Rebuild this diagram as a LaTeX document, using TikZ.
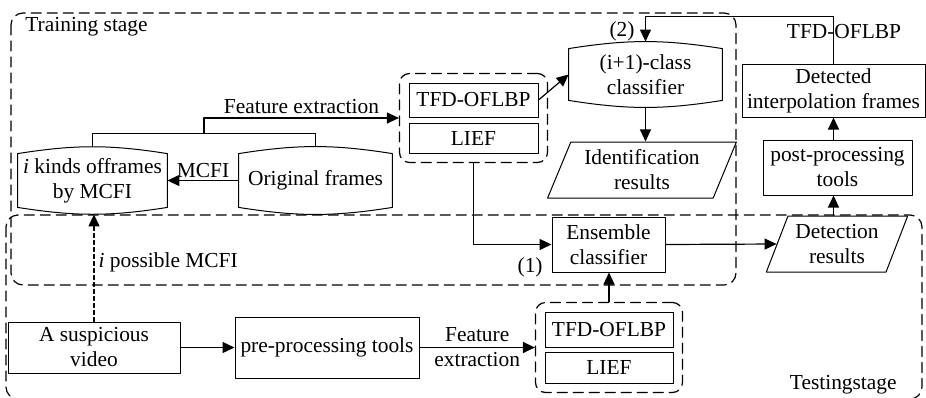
\documentclass[tikz,border=0pt]{standalone}
\usepackage{fontspec}
\IfFontExistsTF{LiberationSerif-Regular.ttf}
	{\setmainfont{LiberationSerif}[Extension=.ttf, UprightFont=*-Regular, ItalicFont=*-Italic, BoldFont=*-Bold, BoldItalicFont=*-BoldItalic]}
	{\setmainfont{Liberation Serif}}
\usetikzlibrary{arrows.meta,calc,fit,shapes.geometric}
\begin{document}
\begin{tikzpicture}[x=0.5pt, y=-0.5pt, line cap=round, line join=round, >={Triangle[length=6pt,width=5.5pt]},
	font=\rmfamily\fontsize{10.7}{12.5}\selectfont,
	box/.style={draw, line width=0.5pt, inner sep=0pt, align=center},
	barrel/.style={inner sep=0pt, align=center},
	slanted/.style={draw, line width=0.5pt, trapezium, trapezium left angle=65, trapezium right angle=115, trapezium stretches=true, inner sep=0pt, align=center},
	featgroup/.style={draw, dash pattern=on 5pt off 3pt, rounded corners=5pt, inner sep=4.5pt, line width=0.6pt},
	stage/.style={draw, dash pattern=on 5pt off 3pt, rounded corners=6pt, line width=0.6pt},
	link/.style={line width=0.6pt, ->}]
	\useasboundingbox (0,0) rectangle (926,397);
	% stages
	\draw[stage] (11,13) rectangle (736,285);
	\draw[stage] (6,215) rectangle (922,399);
	\node[anchor=west, inner sep=0pt] (trainlbl) at (25,27) {Training stage};
	\node[anchor=east, inner sep=0pt] (testlbl) at (897,385) {Testingstage};
	% databases
	\node[barrel, minimum width=74.5pt, minimum height=33.5pt] (kinds) at (92.5,180.5) {\textit{i} kinds offrames\\by MCFI};
	\node[barrel, minimum width=76.5pt, minimum height=33.5pt] (orig) at (315.5,180.5) {Original frames};
	\node[barrel, minimum width=76.5pt, minimum height=32.5pt] (cls) at (645.5,74.5) {(i+1)-class\\classifier};
	\foreach \n in {kinds,orig,cls} {
		\draw[line width=0.5pt] ($(\n.north west)+(0,7)$) to[bend left=9] ($(\n.north east)+(0,7)$) -- ($(\n.south east)+(0,-7)$) to[bend left=9] ($(\n.south west)+(0,-7)$) -- cycle;
	}
	% features
	\node[box, minimum width=64.5pt, minimum height=17pt] (tfdA) at (473.5,100) {TFD-OFLBP};
	\node[box, minimum width=64.5pt, minimum height=15pt] (liefA) at (473.5,138) {LIEF};
	\node[featgroup, fit=(tfdA)(liefA)] (featA) {};
	\node[box, minimum width=64pt, minimum height=17.5pt] (tfdB) at (609,329.5) {TFD-OFLBP};
	\node[box, minimum width=64pt, minimum height=15.5pt] (liefB) at (609,367.5) {LIEF};
	\node[featgroup, fit=(tfdB)(liefB)] (featB) {};
	% other blocks
	\node[slanted, minimum width=95pt, minimum height=28pt] (ident) at (642,170) {Identification\\results};
	\node[box, minimum width=91.5pt, minimum height=26.5pt] (det) at (833.5,90.5) {Detected\\interpolation frames};
	\node[box, minimum width=74.5pt, minimum height=27.5pt] (post) at (837.5,167.5) {post-processing\\tools};
	\node[slanted, minimum width=71pt, minimum height=28pt] (detres) at (837,244) {Detection\\results};
	\node[box, minimum width=56.5pt, minimum height=27.5pt] (ens) at (608.5,244.5) {Ensemble\\classifier};
	\node[box, minimum width=86pt, minimum height=25.5pt] (video) at (94,347.5) {A suspicious\\video};
	\node[box, minimum width=92pt, minimum height=30.5pt] (pre) at (327,347.5) {pre-processing tools};
	% connectors
	\coordinate (fj) at ($(kinds.north)!.5!(orig.north)+(0,-13)$);
	\draw[line width=0.6pt] (kinds.north) |- (fj) -| (orig.north);
	\draw[link] (fj) |- node[pos=.75, above, inner sep=2pt] (featlbl) {Feature extraction} (featA.west);
	\draw[link] (orig.west) -- node[above, inner sep=1pt] (mcfilbl) {MCFI} (kinds.east);
	\draw[link, dash pattern=on 2pt off 1.5pt] (video.north) -- node[right, pos=.55, inner sep=2pt] (possiblelbl) {\textit{i} possible MCFI} (video.north |- kinds.south);
	\draw[link] (video.east) -- (pre.west);
	\draw[link] (pre.east) -- node[align=center, inner sep=0pt] (featlbl2) {Feature\\extraction} (featB.west);
	\draw[link] (featB.north) -- (featB.north |- ens.south);
	\draw[link] (featA.south) |- (ens.west);
	\node[anchor=east, inner sep=0pt] (lbl1) at (543,267) {(1)};
	\draw[link] (ens.east) -- (detres.west);
	\draw[link] (tfdA.east) -- (cls.west);
	\draw[link] (cls.south) -- (cls.south |- ident.north);
	\draw[link] (detres.north -| det.south) -- (post.south -| det.south);
	\draw[link] (post.north -| det.south) -- (det.south);
	\coordinate (fb) at ($(det.north)+(0,-47)$);
	\draw[link] (det.north) -- (fb) -| (cls.north);
	\node[inner sep=0pt] (lbl2) at (622,31) {(2)};
	\node[inner sep=0pt] (fblbl) at (844,32) {TFD-OFLBP};
\end{tikzpicture}
\end{document}
